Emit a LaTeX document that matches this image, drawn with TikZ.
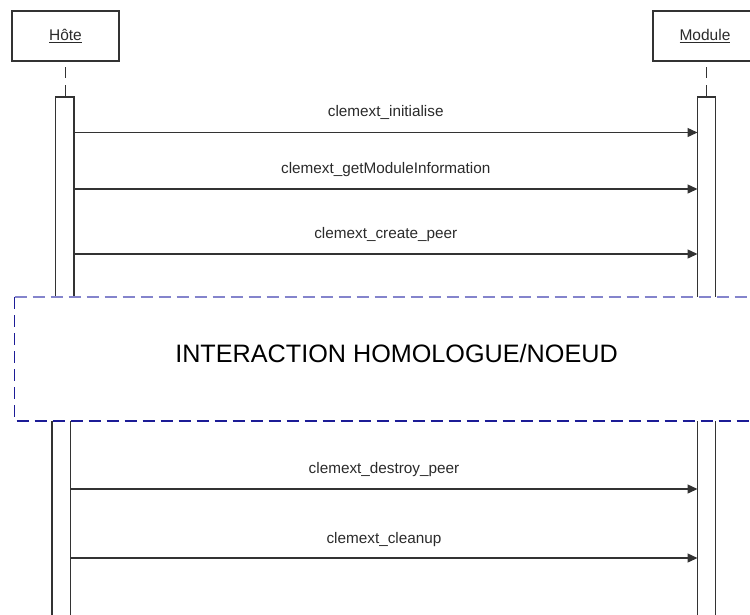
\documentclass[tikz,border=0pt]{standalone}
\usepackage{fontspec}
\setmainfont{Liberation Sans}
\usetikzlibrary{arrows.meta}
\definecolor{ln}{HTML}{333333}
\definecolor{txt}{HTML}{2A2A2A}
\definecolor{frlight}{HTML}{8484CC}
\definecolor{frdark}{HTML}{1C1C96}
\begin{document}
\begin{tikzpicture}[x=1pt,y=-1pt,
  objbox/.style={draw=ln, line width=1.5pt, minimum height=50pt, inner sep=0pt,
    font=\fontsize{15.5}{18}\selectfont, text=txt},
  lifeline/.style={draw=ln, line width=1.3pt, dash pattern=on 11pt off 7pt},
  actbar/.style={draw=ln, line width=1.3pt, fill=white},
  msg/.style={draw=ln, line width=1.4pt, -{Triangle[length=10pt,width=9pt]}},
  msglabel/.style={anchor=base, yshift=16pt, font=\fontsize{15.3}{18}\selectfont, text=txt, inner sep=0pt},
  frline/.style={line width=1.5pt, dash pattern=on 12pt off 6pt}
]
\useasboundingbox (0,0) rectangle (750,614);
\clip (0,0) rectangle (750,614);

% objects
\node[objbox, minimum width=107pt] (host) at (65.5,36) {\underline{Hôte}};
\node[objbox, minimum width=104pt] (mod) at (705,36) {\underline{Module}\hspace{6pt}};

% lifeline stubs
\coordinate (hls) at (65.5,67);
\coordinate (hle) at (65.5,97);
\coordinate (mls) at (706.5,67);
\coordinate (mle) at (706.5,97);
\draw[lifeline] (hls) -- (hle);
\draw[lifeline] (mls) -- (mle);

% activation bars
\draw[actbar] (55.5,97) rectangle (74,300);
\draw[actbar] (697.5,97) rectangle (715.5,300);
\draw[actbar] (52,418) rectangle (70.5,620);
\draw[actbar] (697.5,418) rectangle (715.5,620);

% messages
\coordinate (h1) at (74,132.5);  \coordinate (m1) at (697.5,132.5);
\coordinate (h2) at (74,189);    \coordinate (m2) at (697.5,189);
\coordinate (h3) at (74,254);    \coordinate (m3) at (697.5,254);
\coordinate (h4) at (70.5,489);  \coordinate (m4) at (697.5,489);
\coordinate (h5) at (70.5,558);  \coordinate (m5) at (697.5,558);
\draw[msg] (h1) -- node[msglabel] {clemext\_initialise} (m1);
\draw[msg] (h2) -- node[msglabel] {clemext\_getModuleInformation} (m2);
\draw[msg] (h3) -- node[msglabel] {clemext\_create\_peer} (m3);
\draw[msg] (h4) -- node[msglabel] {clemext\_destroy\_peer} (m4);
\draw[msg] (h5) -- node[msglabel, yshift=-1pt] {clemext\_cleanup} (m5);

% interaction frame
\coordinate (ftl) at (14.5,297);
\coordinate (ftr) at (765,297);
\coordinate (fbl) at (14.5,421);
\coordinate (fbr) at (765,421);
\fill[white] (ftl) rectangle (fbr);
\draw[frline, draw=frlight] (ftl) -- (ftr);
\draw[frline, draw=frdark] (ftl) -- (fbl) -- (fbr);
\node[font=\fontsize{25.2}{29}\selectfont, inner sep=0pt, anchor=base] (frtext) at (396.5,362) {INTERACTION HOMOLOGUE/NOEUD};
\end{tikzpicture}
\end{document}
